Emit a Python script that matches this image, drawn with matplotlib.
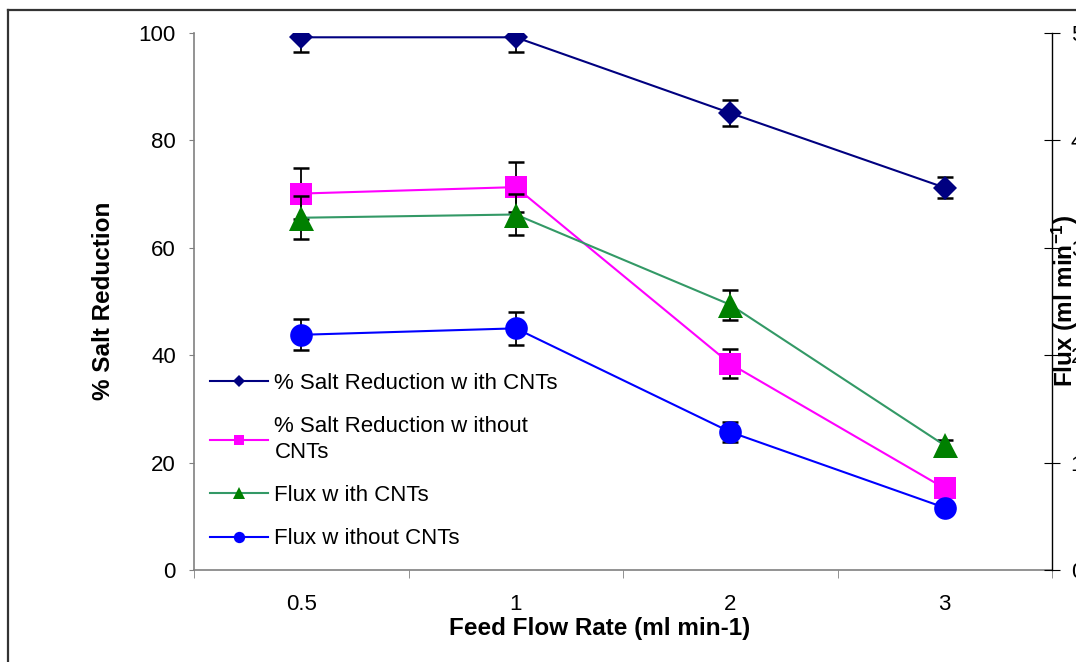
import numpy as np
import matplotlib
matplotlib.use("Agg")
import matplotlib.pyplot as plt
from matplotlib.lines import Line2D

plt.rcParams['font.family'] = ['Liberation Sans', 'DejaVu Sans']
plt.rcParams['mathtext.fontset'] = 'custom'
plt.rcParams['mathtext.rm'] = 'Liberation Sans'
plt.rcParams['mathtext.bf'] = 'Liberation Sans:bold'

# data
categories = ['0.5', '1', '2', '3']
salt_with = [99.2, 99.2, 85.1, 71.2]
salt_with_err = [2.8, 2.8, 2.5, 2.0]
salt_without = [70.1, 71.3, 38.4, 15.2]
salt_without_err = [4.7, 4.7, 2.7, 1.5]
flux_with = [3.28, 3.31, 2.47, 1.16]
flux_with_err = [0.20, 0.19, 0.14, 0.05]
flux_without = [2.19, 2.25, 1.285, 0.58]
flux_without_err = [0.145, 0.155, 0.095, 0.055]

W, H = 1076, 662
fig = plt.figure(figsize=(W / 100, H / 100), dpi=100)
ax = fig.add_axes([194 / W, 1 - 570 / H, (1052 - 194) / W, (570 - 33) / H])
ax2 = ax.twinx()

x = np.arange(len(categories))
ebar = dict(fmt='none', ecolor='black', elinewidth=1.3, capsize=6.1, capthick=1.8, zorder=2)

# error bars first, then lines + markers on top
ax.errorbar(x, salt_with, yerr=salt_with_err, **ebar)
ax.plot(x, salt_with, color='#000080', lw=1.5, marker='D', ms=12.7, mew=0,
        zorder=3, label='% Salt Reduction w ith CNTs')
ax.errorbar(x, salt_without, yerr=salt_without_err, **ebar)
ax.plot(x, salt_without, color='#FF00FF', lw=1.5, marker='s', ms=15.5, mew=0,
        zorder=3, label='% Salt Reduction w ithout\nCNTs')
ax2.errorbar(x, flux_with, yerr=flux_with_err, **ebar)
ax2.plot(x, flux_with, color='#339966', mfc='#008000', lw=1.5, marker='^', ms=18,
         mew=0, zorder=3, label='Flux w ith CNTs')
ax2.errorbar(x, flux_without, yerr=flux_without_err, **ebar)
ax2.plot(x, flux_without, color='#0000FF', lw=1.5, marker='o', ms=16.3, mew=0,
         zorder=3, label='Flux w ithout CNTs')

ax.set_xlim(-0.5, len(categories) - 0.5)
ax.set_ylim(0, 100)
ax2.set_ylim(0, 5)
ax.set_yticks(np.arange(0, 101, 20))
ax2.set_yticks(np.arange(0, 6, 1))
ax.set_xticks(x)
ax.set_xticklabels(categories)
ax.set_xticks(np.arange(-0.5, len(categories), 1), minor=True)

gray = '#808080'
for s in ['top', 'right']:
    ax.spines[s].set_visible(False)
for s in ['top', 'left', 'bottom']:
    ax2.spines[s].set_visible(False)
ax.spines['left'].set_color(gray)
ax.spines['bottom'].set_color(gray)
ax.spines['left'].set_linewidth(1.2)
ax.spines['bottom'].set_linewidth(1.2)
ax2.spines['right'].set_color('black')
ax2.spines['right'].set_linewidth(1.0)

ax.tick_params(axis='y', direction='out', length=3.6, color=gray, pad=9.5, labelsize=16)
ax.tick_params(axis='x', which='major', length=0, pad=17, labelsize=16)
ax.tick_params(axis='x', which='minor', direction='out', length=5.8, color=gray)
ax2.tick_params(axis='y', direction='inout', length=11, color='black', pad=8, labelsize=16)

fig.text(104 / W, 1 - 301 / H, '% Salt Reduction', rotation=90, ha='center',
         va='center', fontsize=17.5, fontweight='bold')
fig.text(600 / W, 1 - 628 / H, 'Feed Flow Rate (ml min-1)', ha='center',
         va='center', fontsize=17.5, fontweight='bold')
fig.text(1065 / W, 1 - 301 / H, r'Flux (ml min$\mathbf{^{-1}}$)', rotation=90,
         ha='center', va='center', fontsize=17.5, fontweight='bold')

h1, l1 = ax.get_legend_handles_labels()
h2, l2 = ax2.get_legend_handles_labels()
leg = ax2.legend(h1 + h2, l1 + l2, loc='upper left',
                 bbox_to_anchor=(210 / W, 1 - 373 / H), bbox_transform=fig.transFigure,
                 frameon=False, fontsize=16, markerscale=0.5, handlelength=2.6,
                 handletextpad=0.3, borderpad=0, borderaxespad=0, labelspacing=1.0)
for t in leg.get_texts():
    t.set_linespacing(1.3)

# outer chart border (cut by the image edges on the right and bottom)
bx, by = 8 / W, 1 - 10 / H
fig.add_artist(Line2D([bx, bx], [0, by], color='#333333', lw=1.6))
fig.add_artist(Line2D([bx, 1], [by, by], color='#333333', lw=1.6))

fig.savefig('out.png', dpi=100)
